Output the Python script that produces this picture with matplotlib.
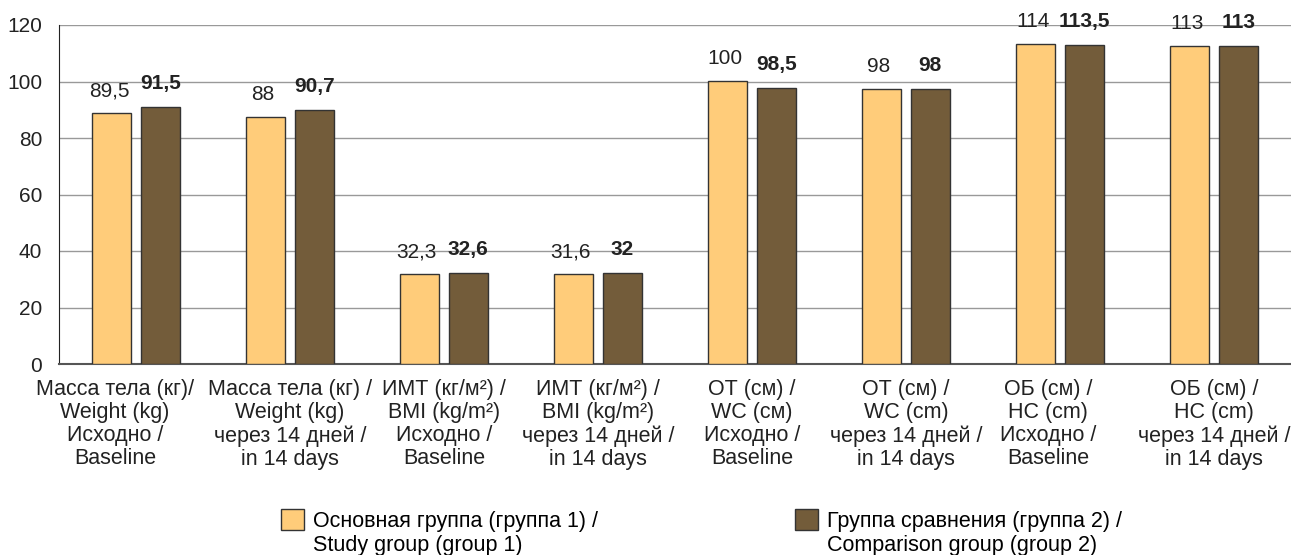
import matplotlib
matplotlib.use("Agg")
import matplotlib.pyplot as plt
import matplotlib.transforms as mtransforms
from matplotlib.legend_handler import HandlerPatch
from matplotlib.patches import Rectangle
import numpy as np

# данные
categories = [
    "Масса тела (кг)/\nWeight (kg)\nИсходно /\nBaseline",
    "Масса тела (кг) /\nWeight (kg)\nчерез 14 дней /\nin 14 days",
    "ИМТ (кг/м²) /\nBMI (kg/m²)\nИсходно /\nBaseline",
    "ИМТ (кг/м²) /\nBMI (kg/m²)\nчерез 14 дней /\nin 14 days",
    "ОТ (см) /\nWC (см)\nИсходно /\nBaseline",
    "ОТ (см) /\nWC (cm)\nчерез 14 дней /\nin 14 days",
    "ОБ (см) /\nHC (cm)\nИсходно /\nBaseline",
    "ОБ (см) /\nHC (cm)\nчерез 14 дней /\nin 14 days",
]
group1 = [88.9, 87.4, 31.9, 31.9, 100.2, 97.4, 113.3, 112.6]
group2 = [91.0, 89.9, 32.2, 32.2, 97.8, 97.4, 112.9, 112.6]
labels1 = ["89,5", "88", "32,3", "31,6", "100", "98", "114", "113"]
labels2 = ["91,5", "90,7", "32,6", "32", "98,5", "98", "113,5", "113"]
legend_names = ["Основная группа (группа 1) /\nStudy group (group 1)",
                "Группа сравнения (группа 2) /\nComparison group (group 2)"]
# сдвиг подписей категорий (пиксели), как в оригинале
label_shift = [-21, 0, 0, 0, 0, 0, -12, 0]

plt.rcParams["font.family"] = ["Liberation Sans", "DejaVu Sans"]

fig = plt.figure(figsize=(12.91, 5.55), dpi=100)
ax = fig.add_axes([59 / 1291, 1 - 364 / 555, 1 - 59 / 1291, 339 / 555])

x = np.arange(len(categories))
w = 0.25
off = 0.158
b1 = ax.bar(x - off, group1, w, color="#FFCC7A", edgecolor="#333333", linewidth=1, zorder=3)
b2 = ax.bar(x + off, group2, w, color="#735C3A", edgecolor="#333333", linewidth=1, zorder=3)

for xi, h, t in zip(x, group1, labels1):
    ax.annotate(t, (xi - off, h), xytext=(-2, 16), textcoords="offset points",
                ha="center", va="center", fontsize=15, color="#222222")
for xi, h, t in zip(x, group2, labels2):
    ax.annotate(t, (xi + off, h), xytext=(0, 17), textcoords="offset points",
                ha="center", va="center", fontsize=15, fontweight="bold", color="#222222")

ax.set_xlim(-0.5, 7.5)
ax.set_ylim(0, 120)
ax.set_yticks(range(0, 121, 20))
ax.yaxis.grid(True, color="#999999", linewidth=1, zorder=0)
ax.set_axisbelow(True)
ax.set_xticks(x)
ax.set_xticklabels(categories, fontsize=15.5, linespacing=1.12)
ax.tick_params(axis="both", length=0, labelsize=15, colors="#222222")
ax.tick_params(axis="x", pad=11, labelsize=15.5)
ax.tick_params(axis="y", pad=12)
for lab, dx in zip(ax.get_xticklabels(), label_shift):
    lab.set_transform(lab.get_transform() + mtransforms.ScaledTranslation(dx / 100, 0, fig.dpi_scale_trans))
for s in ["top", "right"]:
    ax.spines[s].set_visible(False)
ax.spines["left"].set_color("#222222")
ax.spines["bottom"].set_color("#555555")
ax.spines["bottom"].set_linewidth(1.5)


# квадрат легенды на уровне первой строки подписи
def top_square(legend, orig_handle, xdescent, ydescent, width, height, fontsize):
    return Rectangle((-xdescent, -ydescent + 10.5), width, height)


for bars, name, x0 in [(b1, legend_names[0], 281), (b2, legend_names[1], 795)]:
    h = bars.patches[0]
    fig.legend([h], [name], loc="upper left",
               bbox_to_anchor=(x0 / 1291, 1 - 511 / 555), frameon=False,
               prop={"size": 15.5}, handlelength=1.05, handleheight=1.1,
               handletextpad=0.45, borderpad=0, borderaxespad=0,
               handler_map={h: HandlerPatch(patch_func=top_square)})

fig.savefig("out.png", dpi=100)
